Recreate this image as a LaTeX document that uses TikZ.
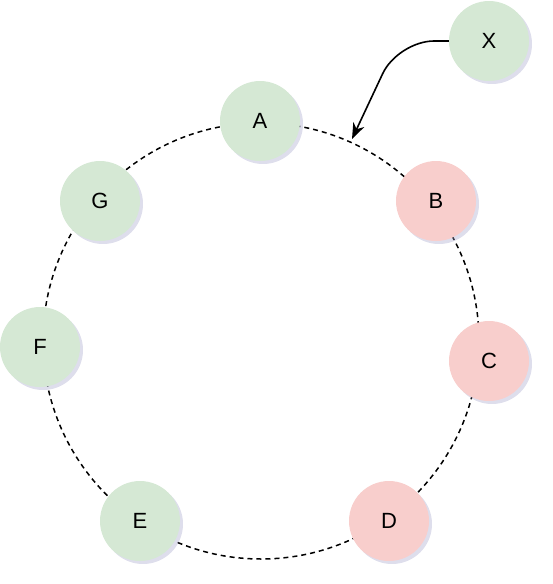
\documentclass[tikz,border=0pt]{standalone}
\usepackage{fontspec}
\setmainfont{Liberation Sans}
\usetikzlibrary{shadows,arrows.meta}
\definecolor{gfill}{HTML}{D5E8D4}
\definecolor{rfill}{HTML}{F8CECC}
\definecolor{shcol}{HTML}{A0A0C8}
\begin{document}
\begin{tikzpicture}[x=1pt,y=-1pt,
  nd/.style={circle,minimum size=80pt,inner sep=0pt,font=\fontsize{22}{26}\selectfont,
    drop shadow={shadow xshift=3pt,shadow yshift=-3pt,fill=shcol,opacity=0.35}},
  gn/.style={nd,fill=gfill},
  rn/.style={nd,fill=rfill},
  ring/.style={draw=black,line width=1.5pt,dash pattern=on 5pt off 4pt},
  conn/.style={draw=black,line width=1.6pt,rounded corners=36pt,-{Stealth[length=16pt,width=12pt]}}]
\useasboundingbox (0,0) rectangle (552,584);
\draw[ring] (261,341) circle[radius=218];
\node[gn] (A) at (260,121) {A};
\node[rn] (B) at (436,201) {B};
\node[rn] (C) at (489,361) {C};
\node[rn] (D) at (389,521) {D};
\node[gn] (E) at (140,521) {E};
\node[gn] (F) at (40,347) {F};
\node[gn] (G) at (100,201) {G};
\node[gn] (X) at (489,41) {X};
\coordinate (tip) at (352,139);
\draw[conn] (X.west) -- (398,41) -- (tip);
\end{tikzpicture}
\end{document}
